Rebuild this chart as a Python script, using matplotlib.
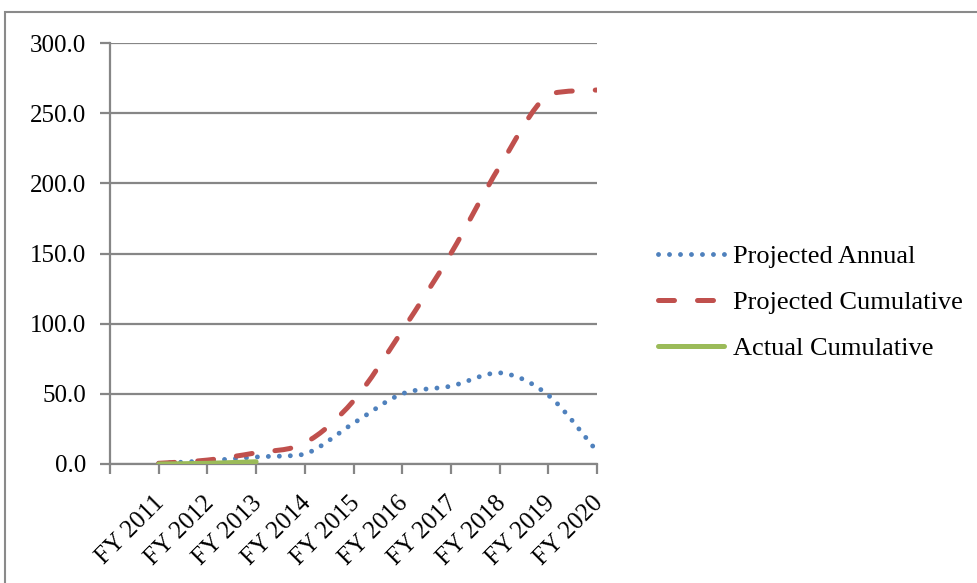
import matplotlib
matplotlib.use("Agg")
import matplotlib.pyplot as plt
import matplotlib.transforms as mtransforms
import numpy as np
from matplotlib.path import Path
from matplotlib.patches import PathPatch, Rectangle
from matplotlib.lines import Line2D

# data
years = ["FY 2011", "FY 2012", "FY 2013", "FY 2014", "FY 2015",
         "FY 2016", "FY 2017", "FY 2018", "FY 2019", "FY 2020"]
projected_annual = [0.5, 2.3, 5.0, 7.0, 29.0, 50.0, 55.5, 65.0, 49.0, 9.0]
projected_cumulative = [0.5, 2.8, 8.0, 15.0, 45.0, 95.0, 150.0, 212.0, 263.5, 266.5]
actual_cumulative = [0.0, 0.5, 1.6]
y_ticks = [0, 50, 100, 150, 200, 250, 300]

plt.rcParams['font.family'] = ['Liberation Serif', 'DejaVu Serif']

blue = '#4F81BD'
red = '#C0504D'
green = '#9BBB59'
grey = '#868686'


def smooth_path(xs, ys):
    # excel-like smoothed line: cubic bezier through the points,
    # control points kept inside each segment's y range (no overshoot)
    pts = np.column_stack([xs, ys]).astype(float)
    n = len(pts)
    verts = [pts[0]]
    codes = [Path.MOVETO]
    for i in range(n - 1):
        p0 = pts[i - 1] if i > 0 else pts[i]
        p1 = pts[i]
        p2 = pts[i + 1]
        p3 = pts[i + 2] if i + 2 < n else pts[i + 1]
        c1 = p1 + (p2 - p0) / 6.0
        c2 = p2 - (p3 - p1) / 6.0
        lo, hi = min(p1[1], p2[1]), max(p1[1], p2[1])
        c1[1] = np.clip(c1[1], lo, hi)
        c2[1] = np.clip(c2[1], lo, hi)
        verts += [c1, c2, p2]
        codes += [Path.CURVE4] * 3
    return Path(verts, codes)


fig = plt.figure(figsize=(9.77, 5.83), dpi=100)
ax = fig.add_axes([110 / 977, 1 - 464 / 583, (597 - 110) / 977, (464 - 43) / 583])

x = np.arange(1, len(years) + 1)

styles = [
    (projected_annual, blue, 3.5, (0, (0.01, 2.25)), 'Projected Annual'),
    (projected_cumulative, red, 3.6, (0, (3.2, 4.6)), 'Projected Cumulative'),
    (actual_cumulative, green, 3.6, '-', 'Actual Cumulative'),
]
handles = []
for vals, col, lw, ls, lab in styles:
    p = PathPatch(smooth_path(x[:len(vals)], vals), fill=False, edgecolor=col,
                  lw=lw, ls=ls, capstyle='round', joinstyle='round', zorder=3)
    ax.add_patch(p)
    handles.append(Line2D([], [], color=col, lw=lw, ls=ls,
                          dash_capstyle='round', solid_capstyle='round'))

ax.set_xlim(0, len(years))
ax.set_ylim(0, 300)
ax.set_yticks(y_ticks)
ax.set_yticklabels([f"{v:.1f}" for v in y_ticks])
ax.set_xticks(np.arange(0, len(years) + 1))
ax.set_xticklabels([""] + years, rotation=45, ha='right', va='top',
                   rotation_mode='anchor')

ax.grid(axis='y', color=grey, lw=1.6)
ax.set_axisbelow(True)
for s in ['top', 'right']:
    ax.spines[s].set_visible(False)
for s in ['left', 'bottom']:
    ax.spines[s].set_color(grey)
    ax.spines[s].set_linewidth(1.6)
ax.tick_params(axis='both', colors=grey, width=1.6, length=7, labelsize=18,
               labelcolor='black')
ax.tick_params(axis='y', pad=10)
ax.tick_params(axis='x', pad=6)

# nudge the rotated labels like excel places them
shift = mtransforms.ScaledTranslation(-5 / 100, -10 / 100, fig.dpi_scale_trans)
for lbl in ax.get_xticklabels():
    lbl.set_transform(lbl.get_transform() + shift)

fig.legend(handles, [s[4] for s in styles], loc='center left',
           bbox_to_anchor=(634 / 977, 1 - 302.5 / 583), frameon=False,
           fontsize=19, handlelength=2.5, handletextpad=0.35, labelspacing=0.85)

# outer chart border
fig.patches.append(Rectangle((5 / 977, -0.1), 2, 1 - 12 / 583 + 0.1,
                             transform=fig.transFigure, fill=False,
                             edgecolor='#8a8a8a', lw=1.5))

fig.savefig("out.png", dpi=100)
